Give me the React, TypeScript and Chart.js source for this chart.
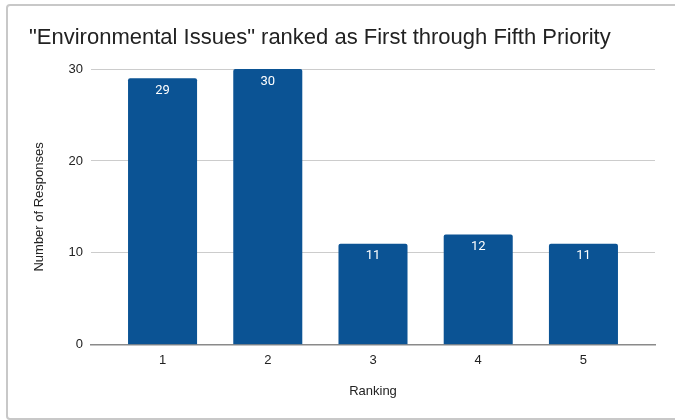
import React, { useEffect, useRef } from "react";
import { Chart, registerables } from "chart.js";

Chart.register(...registerables);

const rankings = [1, 2, 3, 4, 5];
const responses = [29, 30, 11, 12, 11];
const yTicks = [0, 10, 20, 30];
const titleText = '"Environmental Issues" ranked as First through Fifth Priority';
const xTitle = "Ranking";
const yTitle = "Number of Responses";

const barLabels = {
  id: "barLabels",
  afterDatasetsDraw(chart: any) {
    const ctx = chart.ctx;
    const meta = chart.getDatasetMeta(0);
    ctx.save();
    ctx.fillStyle = "#ffffff";
    ctx.font = "13px Roboto, 'Liberation Sans', Arial, sans-serif";
    ctx.textAlign = "center";
    ctx.textBaseline = "middle";
    meta.data.forEach((bar: any, i: number) => {
      ctx.fillText(String(responses[i]), bar.x, bar.y + 12.5);
    });
    ctx.restore();
  },
};

export default function App() {
  const ref = useRef<HTMLCanvasElement | null>(null);
  useEffect(() => {
    if (!ref.current) return;
    const chart = new Chart(ref.current, {
      type: "bar",
      data: {
        datasets: [
          {
            data: rankings.map((r, i) => ({ x: r, y: responses[i] })),
            backgroundColor: "#0b5394",
            borderRadius: { topLeft: 2, topRight: 2, bottomLeft: 0, bottomRight: 0 },
            borderSkipped: "bottom",
            barPercentage: 0.656,
            categoryPercentage: 1,
          },
        ],
      },
      plugins: [barLabels],
      options: {
        animation: false,
        responsive: false,
        maintainAspectRatio: false,
        layout: { padding: { left: 29, right: 20, top: 20, bottom: 21 } },
        plugins: {
          legend: { display: false },
          tooltip: { enabled: false },
          title: {
            display: true,
            text: titleText,
            align: "start",
            color: "#222222",
            font: { family: "'Liberation Sans', Arial, sans-serif", size: 22, weight: "normal" },
            padding: { top: 5, bottom: 17.6 },
          },
        },
        scales: {
          x: {
            type: "linear",
            offset: false,
            min: 0.32,
            max: 5.68,
            afterBuildTicks: (scale: any) => {
              scale.ticks = rankings.map((v) => ({ value: v }));
            },
            grid: { display: false, drawTicks: false, offset: false },
            border: { display: true, color: "#8a8a8a", width: 1.5 },
            ticks: {
              color: "#222222",
              padding: 8,
              font: { family: "'Liberation Sans', Arial, sans-serif", size: 13 },
              maxRotation: 0,
            },
            title: {
              display: true,
              text: xTitle,
              color: "#222222",
              font: { family: "'Liberation Sans', Arial, sans-serif", size: 13 },
              padding: { top: 7, bottom: 0 },
            },
          },
          y: {
            min: 0,
            max: 30,
            afterBuildTicks: (scale: any) => {
              scale.ticks = yTicks.map((v) => ({ value: v }));
            },
            afterFit: (scale: any) => {
              scale.width = 62;
            },
            grid: { color: "#cccccc", drawTicks: false, lineWidth: 1 },
            border: { display: false },
            ticks: {
              color: "#222222",
              padding: 8,
              font: { family: "'Liberation Sans', Arial, sans-serif", size: 13 },
            },
            title: {
              display: true,
              text: yTitle,
              color: "#222222",
              font: { family: "'Liberation Sans', Arial, sans-serif", size: 13 },
              padding: { top: 3, bottom: 0 },
            },
          },
        },
      },
    } as any);
    return () => chart.destroy();
  }, []);

  return (
    <div style={{ position: "fixed", left: 0, top: 0, width: 675, height: 420, overflow: "hidden", background: "#fff" }}>
      <div
        style={{
          position: "absolute",
          left: 6,
          top: 4,
          width: 700,
          height: 412,
          border: "2px solid #c8c8c8",
          borderRadius: 4,
        }}
      />
      <canvas ref={ref} width={675} height={420} style={{ position: "absolute", left: 0, top: 0, width: 675, height: 420 }} />
    </div>
  );
}
